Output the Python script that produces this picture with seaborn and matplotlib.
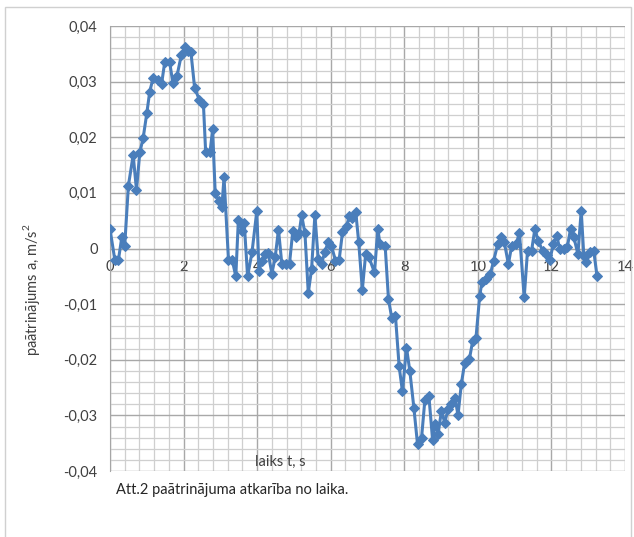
import matplotlib
matplotlib.use("Agg")
import matplotlib.pyplot as plt
from matplotlib.ticker import MultipleLocator, FuncFormatter
from matplotlib.patches import Rectangle
import seaborn as sns
import pandas as pd

# Measured acceleration over time
time_s = [
    0.00, 0.13, 0.23, 0.32, 0.40, 0.50, 0.63, 0.72, 0.81, 0.90,
    1.00, 1.08, 1.17, 1.30, 1.40, 1.49, 1.62, 1.71, 1.82, 1.94,
    2.03, 2.12, 2.20, 2.30, 2.43, 2.54, 2.60, 2.72, 2.79, 2.86,
    2.97, 3.04, 3.10, 3.22, 3.32, 3.42, 3.49, 3.59, 3.65, 3.74,
    3.86, 3.99, 4.05, 4.13, 4.22, 4.30, 4.40, 4.49, 4.58, 4.67,
    4.78, 4.88, 4.97, 5.06, 5.14, 5.21, 5.30, 5.39, 5.48, 5.57,
    5.66, 5.75, 5.84, 5.93, 6.02, 6.13, 6.23, 6.32, 6.44, 6.50,
    6.59, 6.68, 6.76, 6.86, 6.95, 7.04, 7.19, 7.28, 7.34, 7.48,
    7.57, 7.66, 7.76, 7.86, 7.95, 8.06, 8.15, 8.26, 8.36, 8.47,
    8.56, 8.67, 8.77, 8.83, 8.92, 9.01, 9.10, 9.19, 9.28, 9.38,
    9.46, 9.55, 9.64, 9.77, 9.86, 9.95, 10.05, 10.11, 10.22, 10.34,
    10.43, 10.54, 10.63, 10.72, 10.83, 10.92, 11.04, 11.13, 11.26, 11.35,
    11.46, 11.55, 11.64, 11.76, 11.87, 11.96, 12.05, 12.14, 12.23, 12.34,
    12.43, 12.52, 12.61, 12.72, 12.81, 12.88, 12.95, 13.06, 13.15, 13.24,
]
accel = [
    0.0035, -0.0020, -0.0020, 0.0020, 0.0005, 0.0113, 0.0168, 0.0105, 0.0173, 0.0198,
    0.0243, 0.0282, 0.0306, 0.0303, 0.0295, 0.0336, 0.0336, 0.0297, 0.0310, 0.0348,
    0.0362, 0.0355, 0.0353, 0.0289, 0.0267, 0.0259, 0.0174, 0.0174, 0.0214, 0.0099,
    0.0085, 0.0074, 0.0128, -0.0020, -0.0020, -0.0050, 0.0052, 0.0032, 0.0045, -0.0050,
    -0.0007, 0.0067, -0.0040, -0.0022, -0.0010, -0.0008, -0.0045, -0.0016, 0.0034, -0.0027,
    -0.0027, -0.0027, 0.0032, 0.0020, 0.0027, 0.0060, 0.0027, -0.0080, -0.0037, 0.0060,
    -0.0019, -0.0027, -0.0007, 0.0012, 0.0005, -0.0022, -0.0020, 0.0029, 0.0041, 0.0058,
    0.0054, 0.0066, 0.0012, -0.0074, -0.0010, -0.0016, -0.0043, 0.0035, 0.0008, 0.0005,
    -0.0091, -0.0125, -0.0121, -0.0212, -0.0257, -0.0178, -0.0220, -0.0286, -0.0352, -0.0340,
    -0.0272, -0.0266, -0.0345, -0.0316, -0.0333, -0.0292, -0.0313, -0.0289, -0.0280, -0.0268,
    -0.0300, -0.0244, -0.0206, -0.0199, -0.0166, -0.0160, -0.0085, -0.0061, -0.0055, -0.0046,
    -0.0022, 0.0008, 0.0020, 0.0011, -0.0028, 0.0005, 0.0008, 0.0028, -0.0088, -0.0004,
    -0.0004, 0.0035, 0.0014, -0.0004, -0.0012, -0.0020, 0.0008, 0.0023, -0.0001, 0.0000,
    0.0002, 0.0035, 0.0020, -0.0010, 0.0068, -0.0013, -0.0025, -0.0007, -0.0004, -0.0050,
]
x_ticks = [0, 2, 4, 6, 8, 10, 12, 14]
y_ticks = [-0.04, -0.03, -0.02, -0.01, 0.0, 0.01, 0.02, 0.03, 0.04]

y_label = "paātrinājums a, m/s$^2$"
x_label = "laiks t, s"
caption = "Att.2 paātrinājuma atkarība no laika."

sns.set_style("white")
plt.rcParams["font.family"] = ["Lato", "DejaVu Sans"]
plt.rcParams["mathtext.fontset"] = "custom"
plt.rcParams["mathtext.rm"] = "Lato"

W, H = 634, 537
fig = plt.figure(figsize=(W / 100, H / 100), dpi=100)
ax = fig.add_axes([110 / W, 1 - 471 / H, (625 - 110) / W, (471 - 26) / H])

df = pd.DataFrame({"t": time_s, "a": accel})
line_color = "#4a7ebb"
sns.lineplot(data=df, x="t", y="a", sort=False, ax=ax, color=line_color,
             linewidth=2.2, marker="D", markersize=5.2,
             markeredgecolor=line_color, markerfacecolor=line_color, zorder=3)

ax.set_xlim(0, 14)
ax.set_ylim(-0.04, 0.04)
ax.set_xticks(x_ticks)
ax.set_yticks(y_ticks)
ax.xaxis.set_minor_locator(MultipleLocator(0.4))
ax.yaxis.set_minor_locator(MultipleLocator(0.002))
ax.grid(which="minor", color="#cfcfcf", linewidth=0.9, zorder=0)
ax.grid(which="major", color="#a8a8a8", linewidth=1.0, zorder=0)
ax.set_axisbelow(True)


def comma_fmt(v, _pos):
    if abs(v) < 1e-9:
        return "0"
    return f"{v:.2f}".replace(".", ",")


ax.yaxis.set_major_formatter(FuncFormatter(comma_fmt))
ax.xaxis.set_major_formatter(FuncFormatter(lambda v, _p: f"{v:.0f}"))

for side in ("top", "right"):
    ax.spines[side].set_visible(False)
ax.spines["bottom"].set_position(("data", 0))
ax.spines["bottom"].set_color("#a6a6a6")
ax.spines["left"].set_color("#a6a6a6")
ax.spines["bottom"].set_zorder(1)
ax.spines["left"].set_zorder(1)

ax.tick_params(axis="y", which="major", direction="out", length=5, width=0.8,
               color="#a6a6a6", labelsize=10.5, labelcolor="#404040", pad=4)
ax.tick_params(axis="x", which="major", direction="out", length=0,
               labelsize=10.5, labelcolor="#404040", pad=8)
ax.tick_params(which="minor", length=0)
for lbl in ax.get_xticklabels():
    lbl.set_zorder(5)
ax.set_xlabel("")
ax.set_ylabel("")

fig.text(32 / W, 1 - 290 / H, y_label, rotation=90, ha="center", va="center",
         fontsize=10.5, color="#404040")
fig.text(280 / W, 1 - 462 / H, x_label, ha="center", va="center",
         fontsize=10.5, color="#404040")
fig.text(116 / W, 1 - 490 / H, caption, ha="left", va="center",
         fontsize=10.5, color="#262626")

# Chart area frame
fig.patches.append(Rectangle((5 / W, -0.05), (W - 8) / W, 1 - 7 / H + 0.05,
                             transform=fig.transFigure, fill=False,
                             edgecolor="#d0d0d0", linewidth=1.0))

fig.savefig("out.png", dpi=100)
